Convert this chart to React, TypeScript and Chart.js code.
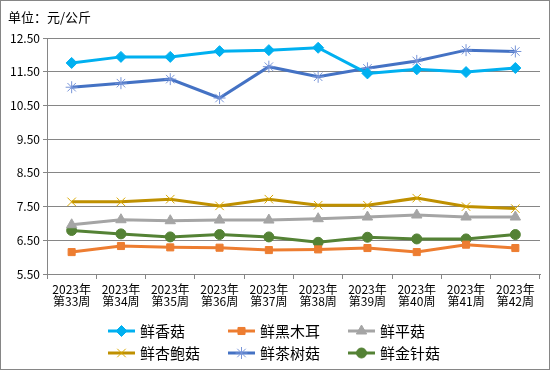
import React, { useEffect, useRef } from "react";
import { Chart, registerables } from "chart.js";
import { drawPoint } from "chart.js/helpers";

Chart.register(...registerables);

const categories = ["2023年|第33周", "2023年|第34周", "2023年|第35周", "2023年|第36周", "2023年|第37周", "2023年|第38周", "2023年|第39周", "2023年|第40周", "2023年|第41周", "2023年|第42周"];
const seriesNames = ["鲜香菇", "鲜黑木耳", "鲜平菇", "鲜杏鲍菇", "鲜茶树菇", "鲜金针菇"];
const xianggu = [11.76, 11.94, 11.94, 12.11, 12.14, 12.21, 11.45, 11.57, 11.49, 11.61];
const heimuer = [6.15, 6.33, 6.29, 6.28, 6.21, 6.23, 6.27, 6.15, 6.37, 6.27];
const pinggu = [6.96, 7.11, 7.08, 7.1, 7.1, 7.14, 7.19, 7.25, 7.19, 7.19];
const xingbaogu = [7.64, 7.64, 7.72, 7.52, 7.72, 7.54, 7.54, 7.75, 7.5, 7.44];
const chashugu = [11.04, 11.16, 11.28, 10.72, 11.65, 11.35, 11.6, 11.82, 12.14, 12.1];
const jinzhengu = [6.79, 6.69, 6.6, 6.67, 6.6, 6.44, 6.59, 6.54, 6.54, 6.67];
const yMin = 5.5;
const yMax = 12.5;
const yStep = 1;
const unitTitle = "单位：元/公斤";

const FONT = "'Noto Sans CJK SC', 'DejaVu Sans', sans-serif";

const legendPlugin = {
  id: "customLegend",
  afterDraw(chart: any) {
    const ctx = chart.ctx;
    ctx.save();
    // title
    ctx.fillStyle = "#000";
    ctx.font = `13px ${FONT}`;
    ctx.textAlign = "left";
    ctx.textBaseline = "middle";
    ctx.fillText(unitTitle, 8, 17);
    // legend
    const colX = [108, 228, 348];
    const rowY = [331, 353];
    chart.data.datasets.forEach((ds: any, i: number) => {
      const x0 = colX[i % 3];
      const y = rowY[Math.floor(i / 3)];
      ctx.strokeStyle = ds.borderColor;
      ctx.lineWidth = 3;
      ctx.beginPath();
      ctx.moveTo(x0, y);
      ctx.lineTo(x0 + 27, y);
      ctx.stroke();
      ctx.fillStyle = ds.pointBackgroundColor;
      ctx.strokeStyle = ds.pointBorderColor;
      ctx.lineWidth = ds.pointBorderWidth;
      drawPoint(ctx, { pointStyle: ds.pointStyle, radius: ds.pointRadius, rotation: 0, borderWidth: ds.pointBorderWidth }, x0 + 13.5, y);
      ctx.fillStyle = "#000";
      ctx.font = `15px ${FONT}`;
      ctx.textAlign = "left";
      ctx.textBaseline = "middle";
      ctx.fillText(ds.label, x0 + 32, y);
    });
    ctx.restore();
  },
};

function mk(label: string, data: number[], color: string, style: string, radius: number, pointBorder?: string, pbw?: number) {
  return {
    label,
    data,
    borderColor: color,
    backgroundColor: color,
    borderWidth: 3,
    pointStyle: style,
    pointRadius: radius,
    pointBackgroundColor: color,
    pointBorderColor: pointBorder || color,
    pointBorderWidth: pbw ?? 1,
    tension: 0,
  };
}

export default function App() {
  const ref = useRef<HTMLCanvasElement>(null);
  useEffect(() => {
    const chart = new Chart(ref.current!, {
      type: "line",
      data: {
        labels: categories.map((c) => c.split("|")),
        datasets: [
          mk(seriesNames[0], xianggu, "#00B0F0", "rectRot", 5.5),
          mk(seriesNames[1], heimuer, "#ED7D31", "rect", 5),
          mk(seriesNames[2], pinggu, "#A5A5A5", "triangle", 6),
          mk(seriesNames[3], xingbaogu, "#BF9000", "crossRot", 6, "#D9A800", 1),
          mk(seriesNames[4], chashugu, "#4472C4", "star", 6, "#7895D8", 1),
          mk(seriesNames[5], jinzhengu, "#548235", "circle", 5),
        ],
      },
      options: {
        animation: false,
        responsive: false,
        layout: { padding: { left: 0, right: 10, top: 38, bottom: 60 } },
        plugins: { legend: { display: false }, title: { display: false }, tooltip: { enabled: false } },
        scales: {
          x: {
            type: "category",
            offset: true,
            grid: { display: true, drawOnChartArea: false, drawTicks: true, tickLength: 5, offset: true, color: "#868686" },
            border: { display: true, color: "#868686", width: 1 },
            ticks: { color: "#000", font: { family: FONT, size: 12, lineHeight: 1.0 }, padding: 4, maxRotation: 0, autoSkip: false },
            afterFit: (s: any) => { s.height = 36; },
          },
          y: {
            min: yMin,
            max: yMax,
            grid: { color: "#868686", tickLength: 4 },
            border: { display: true, color: "#868686", width: 1 },
            ticks: { stepSize: yStep, color: "#000", font: { family: FONT, size: 12 }, padding: 3, callback: (v: any) => Number(v).toFixed(2) },
            afterFit: (s: any) => { s.width = 47; },
          },
        },
      },
      plugins: [legendPlugin],
    } as any);
    return () => chart.destroy();
  }, []);
  return (
    <div style={{ position: "fixed", left: 0, top: 0, width: 550, height: 370, background: "#fff" }}>
      <canvas ref={ref} width={550} height={370} style={{ display: "block", width: 550, height: 370 }} />
      <div style={{ position: "absolute", left: 0, top: 0, width: 550, height: 370, border: "1px solid #868686", boxSizing: "border-box", pointerEvents: "none" }} />
    </div>
  );
}
